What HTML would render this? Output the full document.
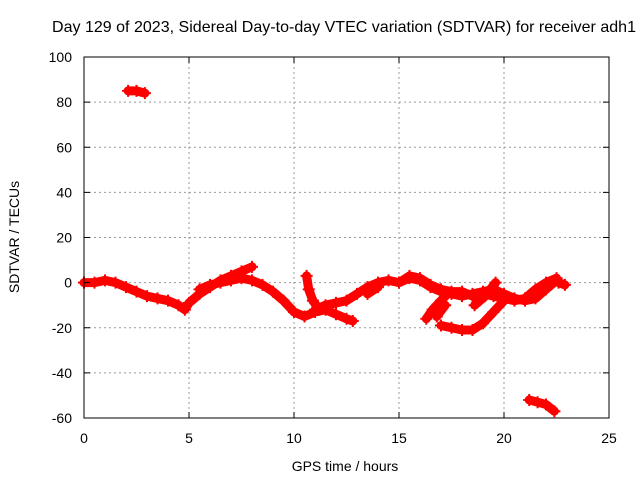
<!DOCTYPE html>
<html><head><meta charset="utf-8"><style>
body{margin:0;background:#fff}
svg{display:block;font-family:"Liberation Sans",sans-serif;font-size:14px}
</style></head><body>
<svg id="chart" width="640" height="480">
<rect width="640" height="480" fill="#fff"/>
<text x="344" y="32" text-anchor="middle" style="font-size:16px" textLength="584">Day 129 of 2023, Sidereal Day-to-day VTEC variation (SDTVAR) for receiver adh1</text>
<g id="grid"></g>
<g id="marks"></g>
<rect x="84" y="57" width="525" height="361" fill="none" stroke="#000"/>
<g id="ticks"></g>
<text x="345" y="471" text-anchor="middle">GPS time / hours</text>
<text transform="translate(19,237) rotate(-90)" text-anchor="middle">SDTVAR / TECUs</text>
</svg>
<script>
const xTicks=[0,5,10,15,20,25];
const yTicks=[-60,-40,-20,0,20,40,60,80,100];
const trackA=[[0,0],[0.5,0],[1,1],[1.5,0],[2,-2],[2.5,-4],[3,-6],[3.5,-7],[4,-8],[4.5,-10],[4.8,-12],[5,-9],[5.5,-5],[6,-2],[6.5,1],[7,3],[7.5,5],[8,7]];
const trackB=[[5.5,-3],[6,-1],[6.5,0],[7,1],[7.5,2],[8,1],[8.5,-1],[9,-4],[9.5,-8],[10,-13],[10.5,-15],[11,-13],[11.5,-12],[12,-14],[12.5,-16],[12.8,-17]];
const trackC=[[10.6,3],[10.7,-3],[10.9,-8],[11.2,-12]];
const trackD=[[11,-12],[11.5,-10],[12,-9],[12.5,-8],[13,-5],[13.5,-2],[14,0],[14.5,1],[15,0],[15.5,2],[16,1],[16.5,-2],[17,-4],[17.5,-5],[18,-6],[18.5,-5],[19,-4],[19.5,-3],[20,-5],[20.5,-7],[21,-8],[21.5,-7],[22,-3],[22.5,1]];
const trackE=[[15,0],[15.5,3],[16,2],[16.5,-1],[17,-3],[17.5,-4],[18,-4],[18.5,-6],[19,-5],[19.5,-6],[20,-7],[20.5,-8],[21,-7],[21.5,-3],[22,0],[22.5,2]];
const trackF=[[16.3,-16],[16.6,-12],[17,-8],[17.3,-5]];
const trackF2=[[16.8,-15],[17.2,-10]];
const trackG=[[18.6,-10],[19.1,-6],[19.6,0]];
const trackH=[[17,-19],[17.5,-20],[18,-21],[18.5,-21],[19,-18],[19.5,-13],[20,-8]];
const trackI=[[2.1,85],[2.5,85],[2.9,84]];
const trackJ=[[21.2,-52],[21.6,-53],[22,-54],[22.4,-57]];
const trackK=[[22.6,0],[22.9,-1]];
const trackL=[[13.5,-5],[14,-2]];
const tracks=[trackA,trackB,trackC,trackD,trackE,trackF,trackF2,trackG,trackH,trackI,trackJ,trackK,trackL];
const NS='http://www.w3.org/2000/svg';
const X=v=>84+v/25*525, Y=v=>418-(v+60)/160*361;
function mk(t,a,p){const e=document.createElementNS(NS,t);for(const k in a)e.setAttribute(k,a[k]);p.appendChild(e);return e;}
const grid=document.getElementById('grid'),ticks=document.getElementById('ticks'),marks=document.getElementById('marks');
xTicks.forEach(v=>{const x=X(v);
 if(v>0&&v<25){const g=mk('line',{x1:x,x2:x,y1:57,y2:418,stroke:'#999','stroke-dasharray':'2,3'},grid);
 
 }
 const t=mk('text',{x:x,y:443,'text-anchor':'middle'},ticks);t.textContent=v;
 
 
 mk('line',{x1:x,x2:x,y1:418,y2:412,stroke:'#000'},ticks);mk('line',{x1:x,x2:x,y1:57,y2:63,stroke:'#000'},ticks);});
yTicks.forEach(v=>{const y=Y(v);
 if(v>-60&&v<100){const g=mk('line',{x1:84,x2:609,y1:y,y2:y,stroke:'#999','stroke-dasharray':'2,3'},grid);
 
 }
 const t=mk('text',{x:72,y:y+5,'text-anchor':'end'},ticks);t.textContent=v;
 
 
 mk('line',{x1:84,x2:90,y1:y,y2:y,stroke:'#000'},ticks);mk('line',{x1:609,x2:603,y1:y,y2:y,stroke:'#000'},ticks);});
tracks.forEach(tr=>{
 const pl=mk('polyline',{points:tr.map(p=>X(p[0])+','+Y(p[1])).join(' '),fill:'none',stroke:'#f00','stroke-width':9,'stroke-linejoin':'round','stroke-linecap':'round'},marks);
 
 
 tr.forEach(p=>{const x=X(p[0]),y=Y(p[1]);
  const m=mk('path',{d:`M${x-6},${y}H${x+6}M${x},${y-6}V${y+6}`,stroke:'#f00','stroke-width':2},marks);
  
  });
});
</script>
</body></html>
